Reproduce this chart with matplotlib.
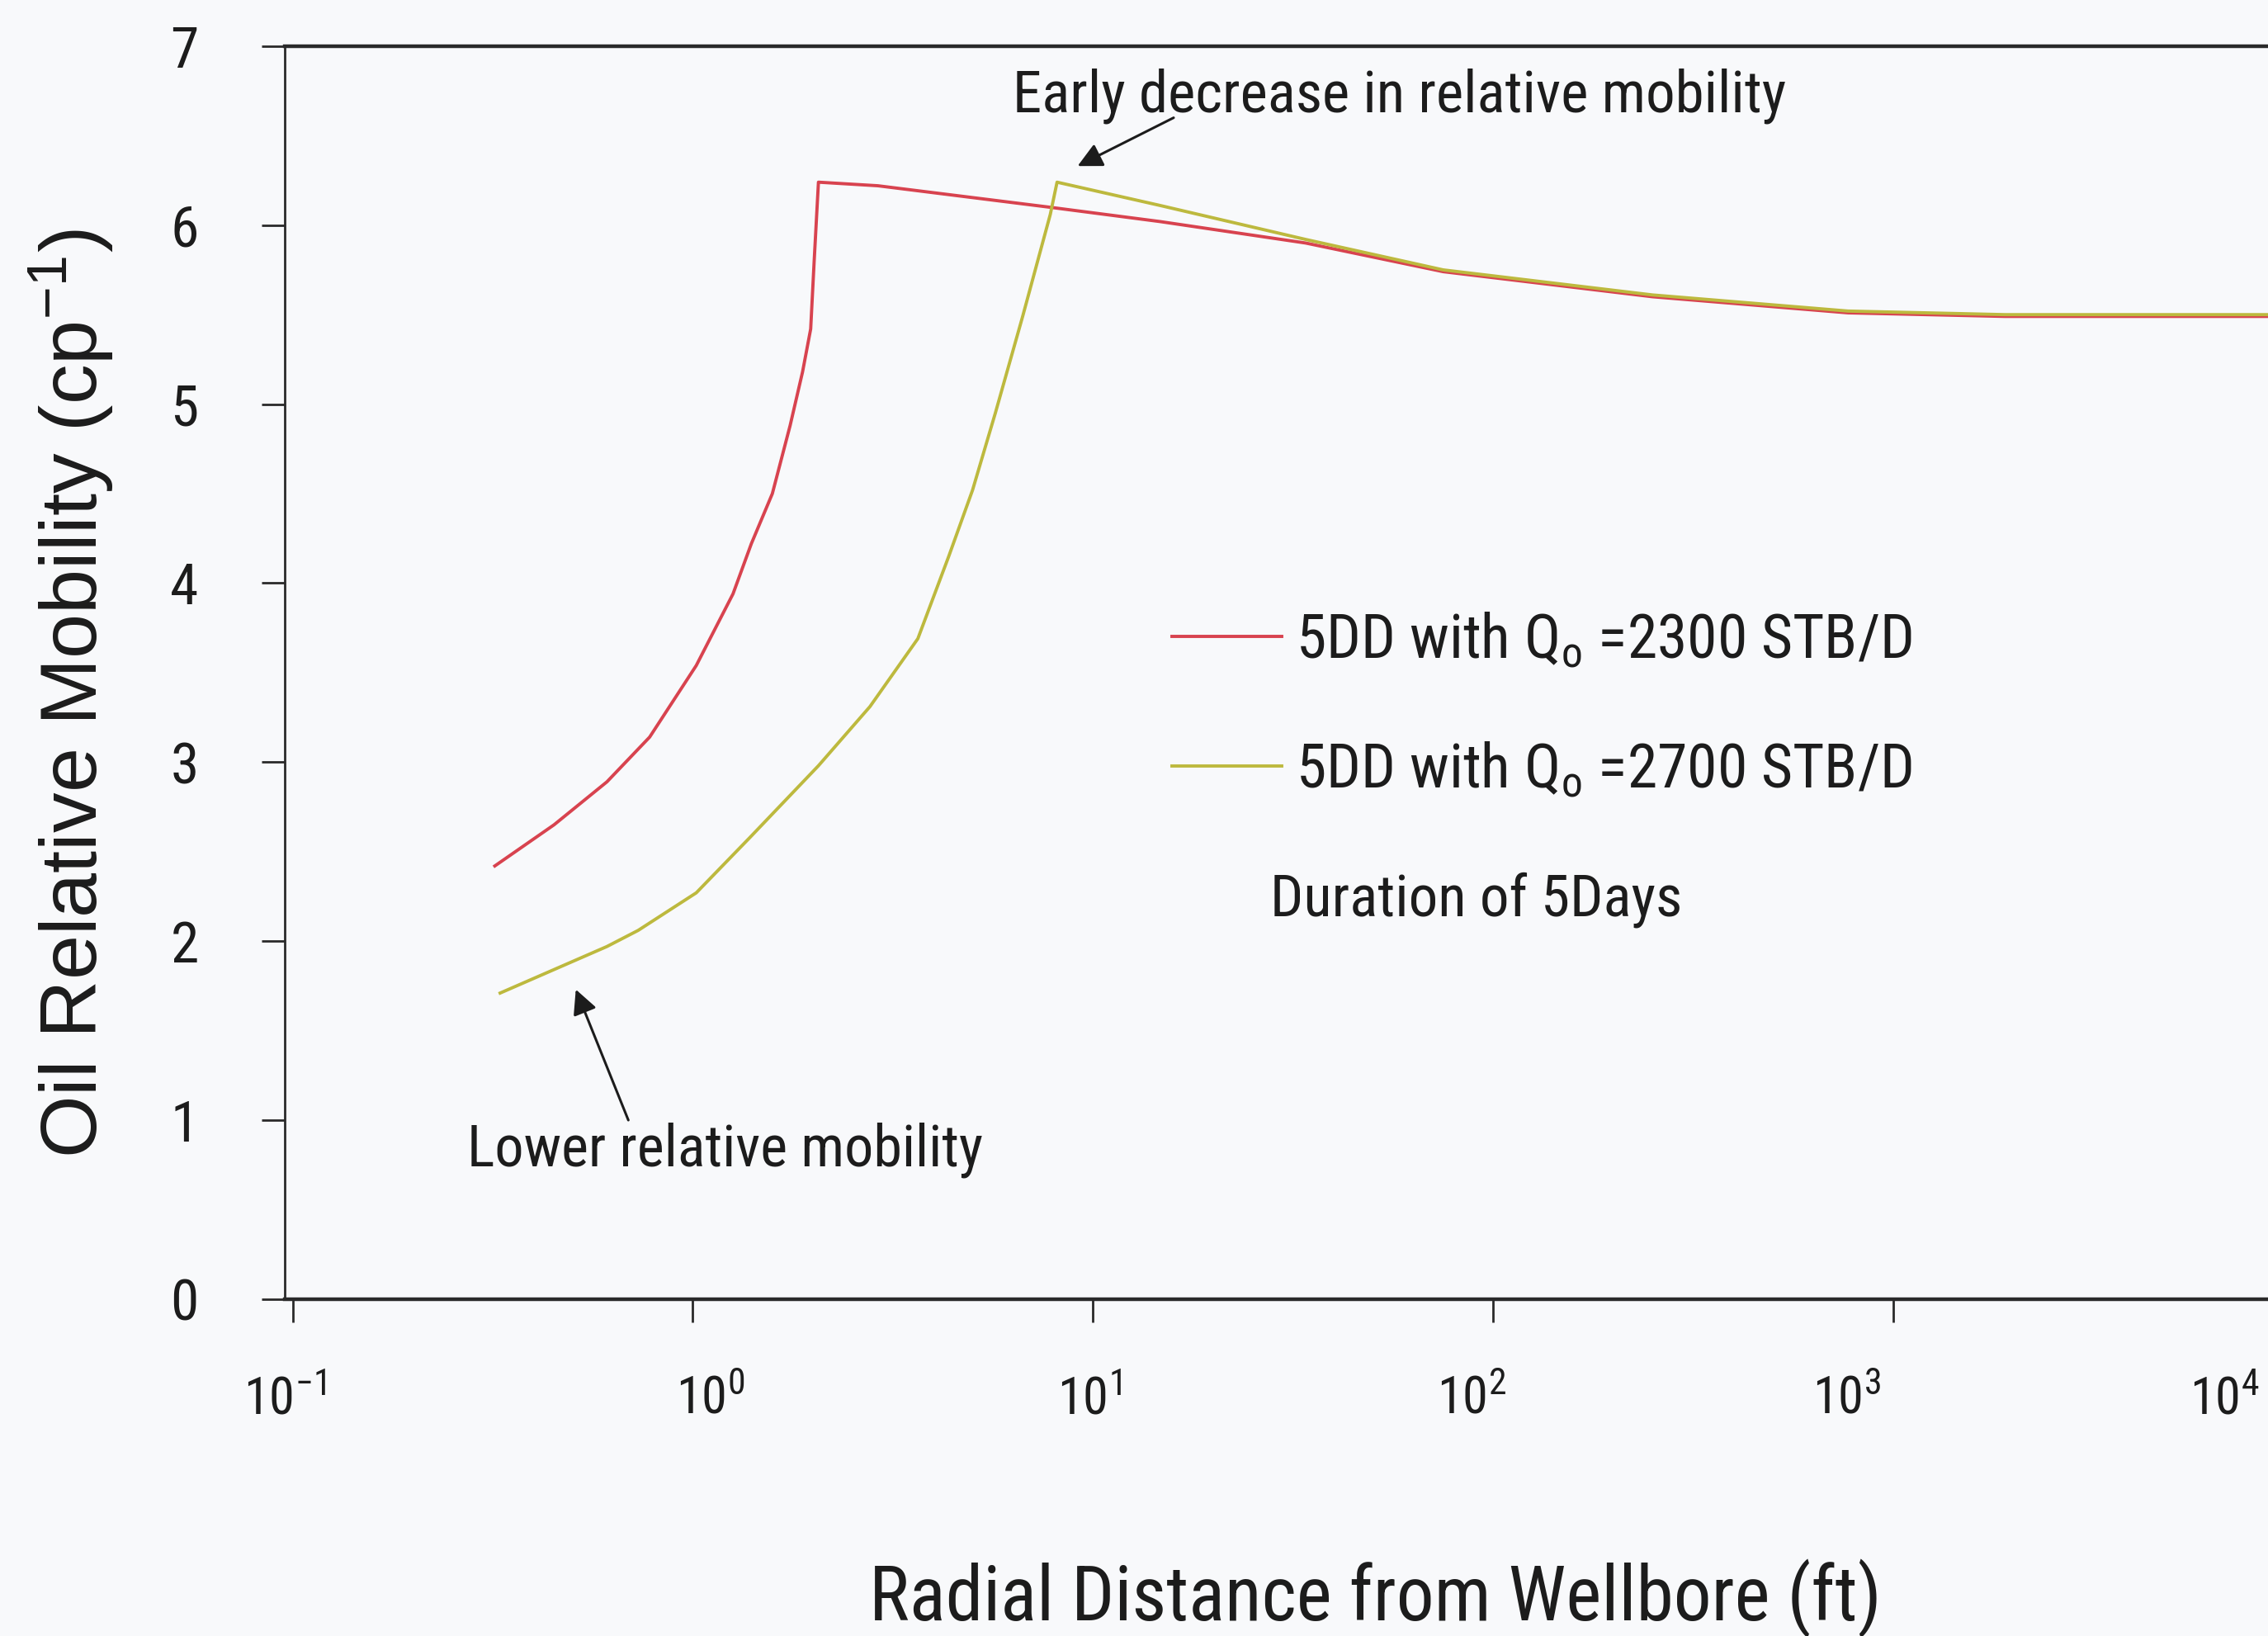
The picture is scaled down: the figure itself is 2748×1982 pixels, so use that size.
import matplotlib.pyplot as plt
from matplotlib.font_manager import FontProperties

INK = '#1c1c1c'
RED = '#d8434f'
OLIVE = '#bdb93e'
BG = '#f8f9fb'
NARROW = ['Roboto Condensed', 'Liberation Sans', 'DejaVu Sans']

# radial distance from wellbore (ft) and oil relative mobility (1/cp)
r_2300 = [0.32, 0.45, 0.61, 0.78, 1.02, 1.26, 1.40, 1.58, 1.75, 1.88, 1.97, 2.01, 2.06,
          2.9, 7.8, 14.7, 34, 75, 250, 770, 1900, 10000]
m_2300 = [2.42, 2.65, 2.89, 3.14, 3.54, 3.94, 4.22, 4.50, 4.88, 5.18, 5.42, 5.80, 6.24,
          6.22, 6.10, 6.02, 5.90, 5.74, 5.60, 5.51, 5.49, 5.49]

r_2700 = [0.33, 0.61, 0.73, 1.02, 1.39, 2.06, 2.77, 3.65, 4.36, 5.0, 5.7, 6.67, 7.82, 8.13,
          14.7, 34, 75, 250, 770, 1900, 10000]
m_2700 = [1.71, 1.97, 2.06, 2.27, 2.58, 2.98, 3.31, 3.69, 4.15, 4.52, 4.95, 5.49, 6.06, 6.24,
          6.11, 5.92, 5.75, 5.61, 5.52, 5.50, 5.50]

label_2300 = r'5DD with Q$_o$ =2300 STB/D'
label_2700 = r'5DD with Q$_o$ =2700 STB/D'

y_ticks = [0, 1, 2, 3, 4, 5, 6, 7]
x_decades = [-1, 0, 1, 2, 3, 4]
# in the scan the decade labels drift a bit off their tick marks (in decades)
x_label_shift = [-0.02, 0.043, -0.008, -0.055, -0.117, -0.172]

plt.rcParams['mathtext.default'] = 'regular'

fig = plt.figure(figsize=(27.48, 19.82), dpi=100, facecolor=BG)
ax = fig.add_axes([0.1255, 0.2059, 0.8858, 0.7659])
ax.set_facecolor(BG)

ax.plot(r_2300, m_2300, color=RED, lw=2.8, label=label_2300)
ax.plot(r_2700, m_2700, color=OLIVE, lw=2.8, label=label_2700)

ax.set_xscale('log')
ax.set_xlim(0.1, 1e4)
ax.set_ylim(0, 7)

ax.spines['right'].set_visible(False)
ax.spines['left'].set_linewidth(2.0)
for sp in ['top', 'bottom']:
    ax.spines[sp].set_linewidth(3.2)
for sp in ax.spines.values():
    sp.set_color('#2a2a2a')

ax.set_yticks(y_ticks)
ax.set_yticklabels([str(v) for v in y_ticks], fontfamily=NARROW, fontsize=50, color=INK)
ax.tick_params(axis='y', length=20, width=2, pad=55, color='#2a2a2a')

ax.set_xticks([10.0 ** d for d in x_decades])
ax.tick_params(axis='x', which='major', length=20, width=2, color='#2a2a2a',
               labelbottom=False)
ax.set_xticks([10.0 ** (d + s) for d, s in zip(x_decades, x_label_shift)],
              [rf'$10^{{{d}}}$' for d in x_decades], minor=True)
ax.tick_params(axis='x', which='minor', length=0, pad=66, labelsize=45, labelcolor=INK)
for t in ax.get_xticklabels(minor=True):
    t.set_fontfamily(NARROW)

ax.set_ylabel(r'Oil Relative Mobility (cp$^{-1}$)', fontfamily='Liberation Sans',
              fontsize=70, color=INK)
ax.yaxis.set_label_coords(-0.084, 0.483)
ax.set_xlabel('Radial Distance from Wellbore (ft)', fontfamily=NARROW, fontsize=66, color=INK)
ax.xaxis.set_label_coords(0.543, -0.207)

ax.legend(loc='upper left', bbox_to_anchor=(1420 / 2748, 1 - 740 / 1982),
          bbox_transform=fig.transFigure, frameon=False,
          prop=FontProperties(family=NARROW, size=53), labelcolor=INK,
          handlelength=1.8, handletextpad=0.24, labelspacing=1.15,
          borderpad=0, borderaxespad=0)
ax.text(0.4905, 0.319, 'Duration of 5Days', transform=ax.transAxes, ha='left', va='center',
        fontfamily=NARROW, fontsize=51, color=INK)

ax.text(0.3624, 0.960, 'Early decrease in relative mobility', transform=ax.transAxes,
        ha='left', va='center', fontfamily=NARROW, fontsize=51, color=INK)
ax.annotate('', xy=(9.15, 6.33), xytext=(15.9, 6.60),
            arrowprops=dict(arrowstyle='-|>', color=INK, lw=2.2, mutation_scale=45,
                            shrinkA=0, shrinkB=0))

ax.text(0.0908, 0.1192, 'Lower relative mobility', transform=ax.transAxes,
        ha='left', va='center', fontfamily=NARROW, fontsize=50.5, color=INK)
ax.annotate('', xy=(0.51, 1.73), xytext=(0.69, 1.0),
            arrowprops=dict(arrowstyle='-|>', color=INK, lw=2.2, mutation_scale=45,
                            shrinkA=0, shrinkB=0))

fig.savefig('out.png', dpi=100, facecolor=BG)
